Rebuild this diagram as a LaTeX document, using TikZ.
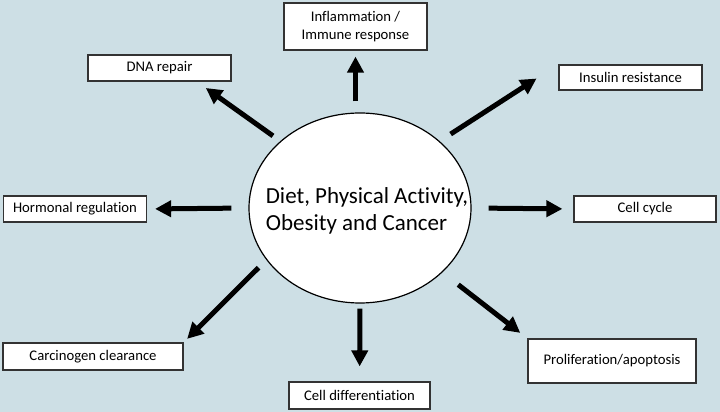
\documentclass[tikz,border=0pt]{standalone}
\usepackage{fontspec}
\setmainfont{Carlito}[Ligatures=NoCommon]
\usetikzlibrary{arrows.meta,shapes.geometric,positioning}
\definecolor{bgblue}{RGB}{205,223,229}

\begin{document}
\begin{tikzpicture}[x=1pt,y=1pt,
  box/.style={draw=black!80,fill=white,line width=1.2pt,align=center,
    minimum width=143pt,minimum height=26pt,inner sep=2pt,
    font=\fontsize{14.7}{18}\selectfont},
  hub/.style={ellipse,draw,fill=white,line width=1.2pt,inner sep=0pt,
    minimum width=222pt,minimum height=190pt},
  link/.style={-{Triangle[length=16pt,width=16pt]},line width=5pt}]
\fill[bgblue] (0,0) rectangle (720,412);
\useasboundingbox (0,0) rectangle (720,412);
% centre
\node[hub] (hub) at (360,204) {};
\node[align=left,font=\fontsize{23}{27}\selectfont] (hubtext) at (367,201)
  {Diet, Physical Activity,\\Obesity and Cancer};
% outer boxes
\node[box,minimum height=47pt] (infl) at (355.5,385.5) {Inflammation /\\Immune response};
\node[box] (dna) at (159.5,344) {DNA repair};
\node[box,minimum height=25pt] (ins) at (630.5,334.5) {Insulin resistance};
\node[box] (horm) at (75,203) {Hormonal regulation};
\node[box,minimum width=142pt] (cyc) at (645,203) {Cell cycle};
\node[box,minimum width=180pt,minimum height=27pt] (carc) at (93,55.5) {Carcinogen clearance};
\node[box,minimum width=141pt,minimum height=27pt] (diff) at (359.5,16.5) {Cell differentiation};
\node[box,minimum width=168pt,minimum height=44pt] (prol) at (612,51) {Proliferation/apoptosis};
% arrows
\draw[link,shorten <=11pt,shorten >=6pt] (hub.north -| infl) -- (infl);
\draw[link,shorten <=9pt,shorten >=11pt] (hub.140) -- (dna.-20);
\draw[link,shorten <=13pt,shorten >=26pt] (hub.40) -- (ins.north west);
\draw[link,shorten <=17pt,shorten >=8pt] (hub.west) -- (horm.east);
\draw[link,shorten <=17pt,shorten >=11pt] (hub.east) -- (cyc.west);
\draw[link,shorten <=11pt,shorten >=5pt] (hub.209) -- (carc.north east);
\draw[link,shorten <=5pt,shorten >=15pt] (hub.south) -- (diff);
\draw[link,shorten <=20pt,shorten >=9pt] (hub.-38) -- (prol.north west);
\end{tikzpicture}
\end{document}
